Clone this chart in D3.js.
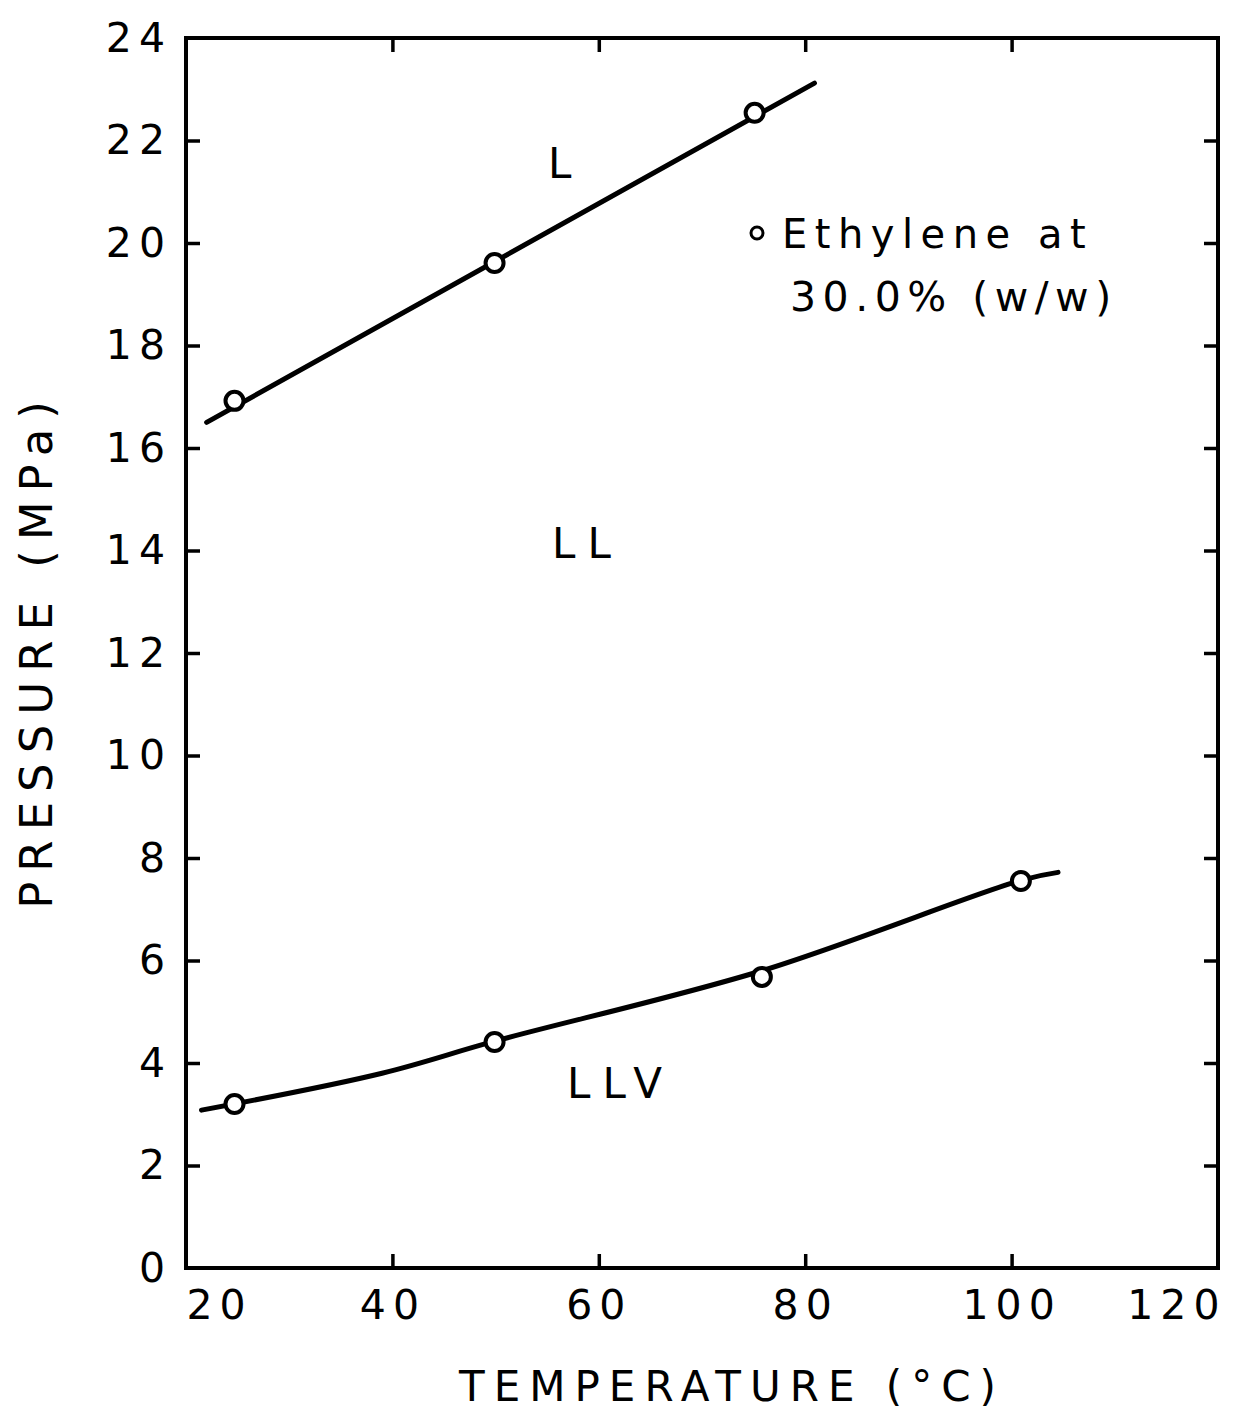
<!DOCTYPE html>
<html>
<head>
<meta charset="utf-8">
<script src="https://cdn.jsdelivr.net/npm/d3@7"></script>
<style>
  html, body { margin: 0; padding: 0; background: #fff; }
  text { font-family: "DejaVu Sans", "Liberation Sans", sans-serif; fill: #000; }
</style>
</head>
<body>
<div id="chart"></div>
<script>
// ── Data ───────────────────────────────────────────────────────────────────────
const xTicks = [20, 40, 60, 80, 100, 120];
const yTicks = [0, 2, 4, 6, 8, 10, 12, 14, 16, 18, 20, 22, 24];

// measured points (temperature °C, pressure MPa)
const upperPoints = [[24.7, 16.92], [49.9, 19.61], [75.1, 22.54]];
const lowerPoints = [[24.7, 3.2], [49.9, 4.41], [75.8, 5.68], [100.9, 7.55]];

// hand-drawn curves through the points
const upperCurve = [[22.0, 16.5], [80.9, 23.12]];
const lowerCurve = [[21.5, 3.08], [39, 3.8], [50, 4.43], [75.8, 5.8], [101, 7.57], [104.5, 7.72]];

const regionLabels = [
    { text: "L",   x: 56.8, y: 21.27 },
    { text: "LL",  x: 58.9, y: 13.85 },
    { text: "LLV", x: 62.1, y: 3.32 }
];

// ── Layout ─────────────────────────────────────────────────────────────────────
const W = 1246, H = 1413;
const margin = { top: 38, right: 28, bottom: 145, left: 186 };
const iw = W - margin.left - margin.right;
const ih = H - margin.top - margin.bottom;

const svg = d3.select("#chart").append("svg")
    .attr("width", W).attr("height", H)
    .attr("viewBox", `0 0 ${W} ${H}`);

const g = svg.append("g").attr("transform", `translate(${margin.left},${margin.top})`);

const x = d3.scaleLinear().domain([20, 120]).range([0, iw]);
const y = d3.scaleLinear().domain([0, 24]).range([ih, 0]);

// frame
g.append("rect")
    .attr("x", 0).attr("y", 0).attr("width", iw).attr("height", ih)
    .attr("fill", "none").attr("stroke", "#000").attr("stroke-width", 4);

// ── Axes (ticks inward on all four sides) ─────────────────────────────────────
const tickLen = 14;

const axB = g.append("g").attr("transform", `translate(0,${ih})`)
    .call(d3.axisBottom(x).tickValues(xTicks).tickSize(-tickLen).tickPadding(22));
const axT = g.append("g")
    .call(d3.axisTop(x).tickValues(xTicks).tickSize(-tickLen).tickFormat(""));
const axL = g.append("g")
    .call(d3.axisLeft(y).tickValues(yTicks).tickSize(-tickLen).tickPadding(22));
const axR = g.append("g").attr("transform", `translate(${iw},0)`)
    .call(d3.axisRight(y).tickValues(yTicks).tickSize(-tickLen).tickFormat(""));

[axB, axT, axL, axR].forEach(a => {
    a.select(".domain").remove();
    a.selectAll(".tick line").attr("stroke", "#000").attr("stroke-width", 3.5);
    a.selectAll(".tick text")
        .attr("font-size", 41).attr("letter-spacing", 7)
        .attr("font-family", "'DejaVu Sans', sans-serif").attr("fill", "#000");
});
// no tick marks at the corners
[axB, axT].forEach(a => a.selectAll(".tick").filter(d => d === 20 || d === 120).select("line").remove());
[axL, axR].forEach(a => a.selectAll(".tick").filter(d => d === 0 || d === 24).select("line").remove());

axB.selectAll(".tick text")
    .attr("dy", "0.71em")
    .attr("text-anchor", d => d === 20 ? "start" : d === 120 ? "end" : "middle")
    .attr("dx", d => d === 120 ? 8 : 0);
axL.selectAll(".tick text").attr("dx", 8);

// ── Curves & markers ──────────────────────────────────────────────────────────
const line = d3.line().x(d => x(d[0])).y(d => y(d[1])).curve(d3.curveCatmullRom.alpha(0.5));

[upperCurve, lowerCurve].forEach(c => {
    g.append("path").datum(c)
        .attr("d", line)
        .attr("fill", "none").attr("stroke", "#000")
        .attr("stroke-width", 5).attr("stroke-linecap", "round");
});

g.selectAll(".pt")
    .data(upperPoints.concat(lowerPoints))
    .enter().append("circle")
    .attr("class", "pt")
    .attr("cx", d => x(d[0])).attr("cy", d => y(d[1]))
    .attr("r", 9)
    .attr("fill", "#fff").attr("stroke", "#000").attr("stroke-width", 4);

// ── Region labels ─────────────────────────────────────────────────────────────
g.selectAll(".region")
    .data(regionLabels)
    .enter().append("text")
    .attr("class", "region")
    .attr("x", d => x(d.x)).attr("y", d => y(d.y))
    .attr("text-anchor", "middle")
    .attr("font-size", 42).attr("letter-spacing", 12)
    .text(d => d.text);

// ── Legend ────────────────────────────────────────────────────────────────────
g.append("circle")
    .attr("cx", 571).attr("cy", 195).attr("r", 6)
    .attr("fill", "#fff").attr("stroke", "#000").attr("stroke-width", 3);
g.append("text")
    .attr("x", 596).attr("y", 210)
    .attr("font-size", 40).attr("letter-spacing", 7.5)
    .text("Ethylene at");
g.append("text")
    .attr("x", 604).attr("y", 273)
    .attr("font-size", 41).attr("letter-spacing", 6.5)
    .text("30.0% (w/w)");

// ── Axis titles ───────────────────────────────────────────────────────────────
svg.append("text")
    .attr("x", 732).attr("y", 1401)
    .attr("text-anchor", "middle")
    .attr("font-size", 42).attr("letter-spacing", 9)
    .text("TEMPERATURE (°C)");

svg.append("text")
    .attr("transform", `translate(52,650) rotate(-90)`)
    .attr("text-anchor", "middle")
    .attr("font-size", 45).attr("letter-spacing", 10)
    .text("PRESSURE (MPa)");
</script>
</body>
</html>
